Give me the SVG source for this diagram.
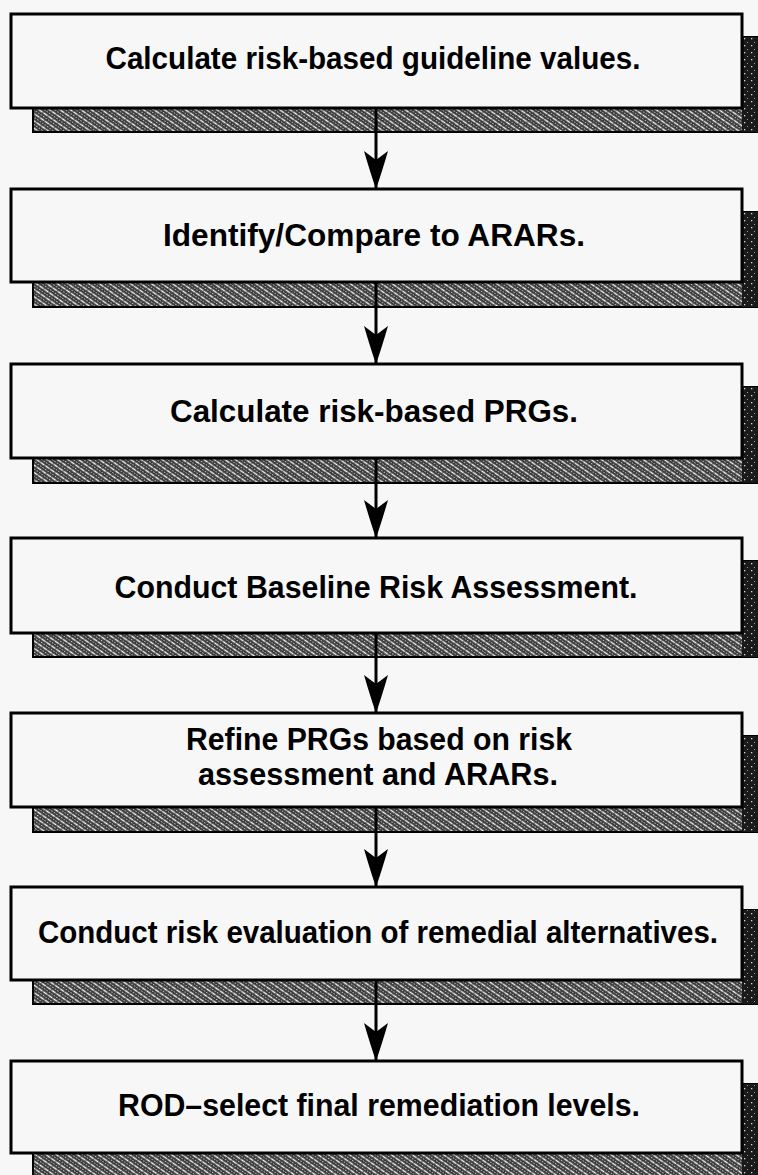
<svg xmlns="http://www.w3.org/2000/svg" width="758" height="1175" viewBox="0 0 758 1175">
<defs>
<pattern id="hatch" width="6" height="6" patternUnits="userSpaceOnUse" patternTransform="rotate(35)">
<rect width="6" height="6" fill="#333"/>
<line x1="0" y1="1.5" x2="6" y2="1.5" stroke="#f4f4f4" stroke-width="1.6" stroke-dasharray="3.5 0.8"/>
<line x1="0" y1="4.5" x2="6" y2="4.5" stroke="#cfcfcf" stroke-width="1.2" stroke-dasharray="1.5 1.5"/>
</pattern>
<pattern id="dark" width="7" height="7" patternUnits="userSpaceOnUse">
<rect width="7" height="7" fill="#1a1a1a"/>
<rect x="2" y="3" width="1.3" height="1.3" fill="#d8d8d8"/>
<rect x="5" y="0" width="1" height="1" fill="#999"/>
</pattern>
<marker id="ah" markerUnits="userSpaceOnUse" markerWidth="40" markerHeight="26" refX="38" refY="12" orient="auto" viewBox="0 0 40 26">
<path d="M0,0 Q24,7 38,12 Q24,17 0,24 L9,12 Z" fill="#000"/>
</marker>
</defs>
<style>
.bg{fill:#f7f7f7}
.box{fill:#f7f7f7;stroke:#000;stroke-width:3}
.sh{fill:url(#hatch);stroke:#000;stroke-width:2}
.shr{fill:url(#dark)}
.t{font-family:"Liberation Sans",Arial,sans-serif;font-weight:bold;font-size:32px;fill:#000;text-anchor:middle}
.c{stroke:#000;stroke-width:3;fill:none}
</style>
<rect class="bg" x="0" y="0" width="758" height="1175"/>

<g id="node1">
<rect class="sh" x="33" y="37" width="740" height="95"/>
<rect class="shr" x="742" y="37" width="16" height="95"/>
<rect class="box" x="11" y="14" width="731" height="94"/>
<text class="t" x="373" y="69" textLength="535" lengthAdjust="spacingAndGlyphs">Calculate risk-based guideline values.</text>
</g>

<g id="node2">
<rect class="sh" x="33" y="212" width="740" height="95"/>
<rect class="shr" x="742" y="212" width="16" height="95"/>
<rect class="box" x="11" y="189" width="731" height="93"/>
<text class="t" x="374" y="246" textLength="422" lengthAdjust="spacingAndGlyphs">Identify/Compare to ARARs.</text>
</g>

<g id="node3">
<rect class="sh" x="33" y="387" width="740" height="96"/>
<rect class="shr" x="742" y="387" width="16" height="96"/>
<rect class="box" x="11" y="364" width="731" height="94"/>
<text class="t" x="374" y="422" textLength="408" lengthAdjust="spacingAndGlyphs">Calculate risk-based PRGs.</text>
</g>

<g id="node4">
<rect class="sh" x="33" y="561" width="740" height="96"/>
<rect class="shr" x="742" y="561" width="16" height="96"/>
<rect class="box" x="11" y="538" width="731" height="95"/>
<text class="t" x="376" y="598" textLength="523" lengthAdjust="spacingAndGlyphs">Conduct Baseline Risk Assessment.</text>
</g>

<g id="node5">
<rect class="sh" x="33" y="736" width="740" height="96"/>
<rect class="shr" x="742" y="736" width="16" height="96"/>
<rect class="box" x="11" y="713" width="731" height="94"/>
<text class="t" x="379" y="750" textLength="386" lengthAdjust="spacingAndGlyphs">Refine PRGs based on risk</text>
<text class="t" x="378" y="785" textLength="360" lengthAdjust="spacingAndGlyphs">assessment and ARARs.</text>
</g>

<g id="node6">
<rect class="sh" x="33" y="910" width="740" height="94"/>
<rect class="shr" x="742" y="910" width="16" height="94"/>
<rect class="box" x="11" y="887" width="731" height="93"/>
<text class="t" x="378" y="943" textLength="680" lengthAdjust="spacingAndGlyphs">Conduct risk evaluation of remedial alternatives.</text>
</g>

<g id="node7">
<rect class="sh" x="33" y="1084" width="740" height="100"/>
<rect class="shr" x="742" y="1084" width="16" height="100"/>
<rect class="box" x="11" y="1061" width="731" height="92"/>
<text class="t" x="379" y="1116" textLength="522" lengthAdjust="spacingAndGlyphs">ROD–select final remediation levels.</text>
</g>

<g id="connectors">
<line class="c" x1="376" y1="108" x2="376" y2="189" marker-end="url(#ah)"/>
<line class="c" x1="376" y1="282" x2="376" y2="364" marker-end="url(#ah)"/>
<line class="c" x1="376" y1="458" x2="376" y2="538" marker-end="url(#ah)"/>
<line class="c" x1="376" y1="633" x2="376" y2="713" marker-end="url(#ah)"/>
<line class="c" x1="376" y1="807" x2="376" y2="887" marker-end="url(#ah)"/>
<line class="c" x1="376" y1="980" x2="376" y2="1061" marker-end="url(#ah)"/>
</g>
</svg>
